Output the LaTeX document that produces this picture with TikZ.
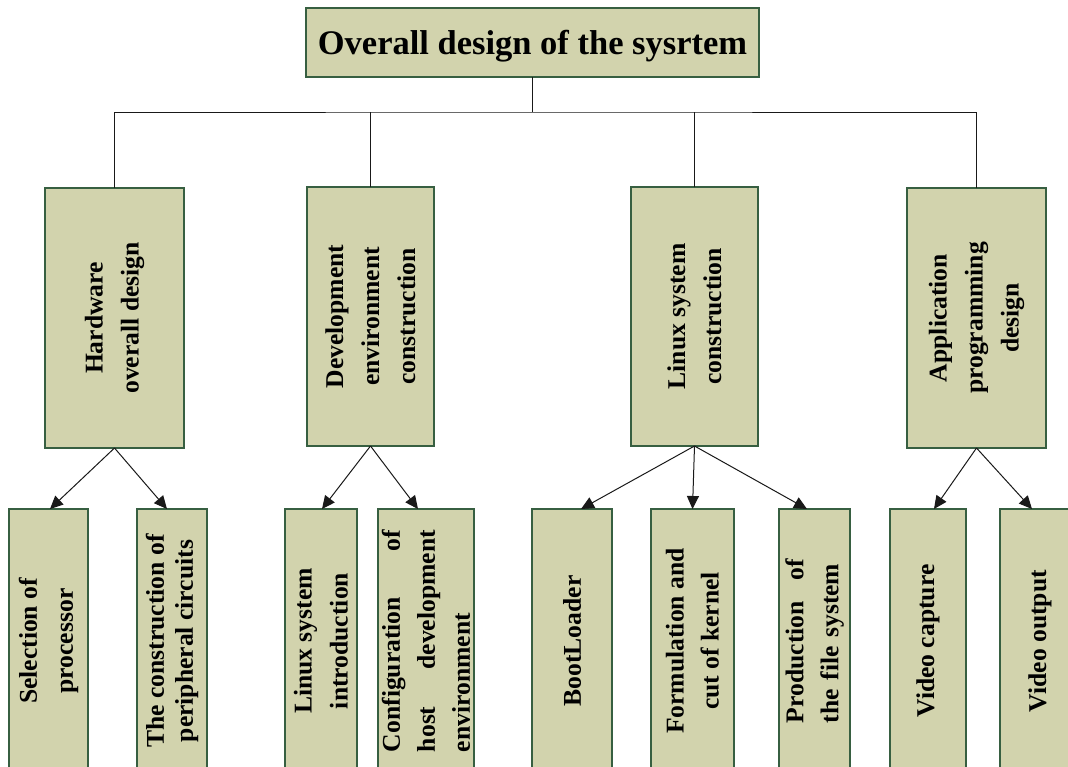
\documentclass[tikz,border=0pt]{standalone}
\usepackage{fontspec}
\setmainfont{Liberation Serif}
\usetikzlibrary{arrows.meta}
\definecolor{boxfill}{RGB}{210,211,173}
\definecolor{boxline}{RGB}{55,95,65}
\begin{document}
\begin{tikzpicture}[x=1pt,y=-1pt,
  box/.style={draw=boxline, fill=boxfill, line width=1.3pt, inner sep=0pt, outer sep=0pt},
  vtext/.style={rotate=90, align=center, inner sep=0pt, font=\bfseries\fontsize{25.6}{36}\selectfont},
  tight/.style={font=\bfseries\fontsize{25.6}{29}\selectfont},
  link/.style={draw=black!90, line width=1pt},
  arr/.style={link, -{Triangle[length=13pt,width=12pt]}}]
\useasboundingbox (0,0) rectangle (1068,766);
\clip (0,0) rectangle (1068,766);

% top
\node[box, minimum width=453pt, minimum height=69pt, text depth=0pt,
      font=\bfseries\fontsize{34.5}{40}\selectfont] (top) at (532.5,42.5) {Overall design of the sysrtem};

% level 2
\node[box, minimum width=139pt, minimum height=260pt] (hw)  at (114.5,318) {};
\node[box, minimum width=127pt, minimum height=259pt] (dev) at (370.5,316.5) {};
\node[box, minimum width=127pt, minimum height=259pt] (lin) at (694.5,316.5) {};
\node[box, minimum width=139pt, minimum height=260pt] (app) at (976.5,318) {};

\node[vtext] (hwt)  at (hw)  {Hardware\\overall design};
\node[vtext] (devt) at (dev) {Development\\environment\\construction};
\node[vtext] (lint) at (lin) {Linux system\\construction};
\node[vtext] (appt) at (app) {Application\\programming\\design};

% level 3
\node[box, minimum width=79pt, minimum height=264pt] (sel)  at (48.5,641) {};
\node[box, minimum width=70pt, minimum height=264pt] (per)  at (172,641) {};
\node[box, minimum width=72pt, minimum height=264pt] (lii)  at (321,641) {};
\node[box, minimum width=96pt, minimum height=264pt] (cfg)  at (426,641) {};
\node[box, minimum width=80pt, minimum height=264pt] (boot) at (572,641) {};
\node[box, minimum width=83pt, minimum height=264pt] (krn)  at (692.5,641) {};
\node[box, minimum width=71pt, minimum height=264pt] (fs)   at (814.5,641) {};
\node[box, minimum width=76pt, minimum height=264pt] (vc)   at (928,641) {};
\node[box, minimum width=80pt, minimum height=264pt] (vo)   at (1040,641) {};

\node[vtext] (selt) at (sel) {Selection of\\processor};
\node[vtext, tight] (pert) at (per) {The construction of\\peripheral circuits};
\node[vtext] (liit) at (lii) {Linux system\\introduction};
\node[vtext, font=\bfseries\fontsize{25.6}{35}\selectfont, text width=222pt, align=left] (cfgt) at (cfg)
  {Configuration\hfill of\\host\hfill development\\environment};
\node[vtext] (boott) at (boot) {BootLoader};
\node[vtext, font=\bfseries\fontsize{25.6}{35}\selectfont] (krnt) at (krn) {Formulation and\\cut of kernel};
\node[vtext, font=\bfseries\fontsize{25.6}{35}\selectfont, text width=164pt, align=left] (fst) at (fs)
  {Production\hfill of\\\mbox{the file system}};
\node[vtext] (vct) at (vc) {Video capture};
\node[vtext] (vot) at (vo) {Video output};

% tree connectors
\coordinate (bus) at (532.5,112);
\draw[link] (top.south) -- (bus);
\draw[link] (hw.north) |- (bus) -| (app.north);
\draw[link] (dev.north) -- (dev.north |- bus);
\draw[link] (lin.north) -- (lin.north |- bus);

% arrows
\draw[arr] (hw.south) -- ([xshift=1.5pt]sel.north);
\draw[arr] (hw.south) -- ([xshift=-5pt]per.north);
\draw[arr] (dev.south) -- ([xshift=1pt]lii.north);
\draw[arr] (dev.south) -- ([xshift=-8pt]cfg.north);
\draw[arr] (lin.south) -- ([xshift=9pt]boot.north);
\draw[arr] (lin.south) -- (krn.north);
\draw[arr] (lin.south) -- ([xshift=-7.5pt]fs.north);
\draw[arr] (app.south) -- ([xshift=6pt]vc.north);
\draw[arr] (app.south) -- ([xshift=-8pt]vo.north);
\end{tikzpicture}
\end{document}
